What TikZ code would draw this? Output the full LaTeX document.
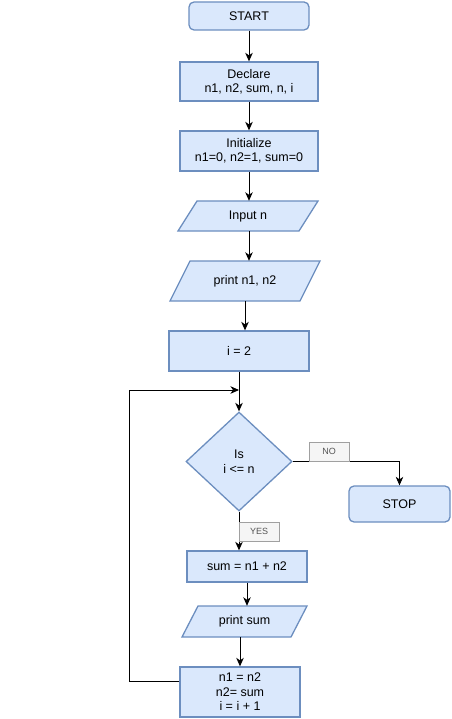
\documentclass[tikz,border=0pt]{standalone}
\usepackage{fontspec}
\setmainfont{Liberation Sans}
\usetikzlibrary{shapes.geometric,arrows.meta}
\definecolor{boxfill}{HTML}{DAE8FC}
\definecolor{boxline}{HTML}{6C8EBF}
\definecolor{lblfill}{HTML}{F5F5F5}
\definecolor{lblline}{HTML}{A0A0A0}
\definecolor{lbltext}{HTML}{555555}
\begin{document}
\begin{tikzpicture}[x=1pt,y=-1pt,
  every node/.style={font=\fontsize{12.5}{14.4}\selectfont, align=center, inner sep=0pt},
  proc/.style={draw=boxline, fill=boxfill, line width=1.3pt, rectangle},
  term/.style={proc, rounded corners=5pt},
  iobox/.style={draw=boxline, fill=boxfill, line width=1.3pt, line join=miter},
  decbox/.style={draw=boxline, fill=boxfill, line width=1.3pt, diamond},
  lbl/.style={draw=lblline, fill=lblfill, text=lbltext, font=\fontsize{9}{10}\selectfont, minimum width=40pt, minimum height=19pt, line width=0.6pt},
  arr/.style={draw=black, line width=0.9pt, -{Stealth[length=8.5pt,width=7.5pt,inset=2.5pt]}}
]
\useasboundingbox (0,0) rectangle (451,719);

% nodes
\node[term, minimum width=120pt, minimum height=28pt] (start) at (249,16) {START};
\node[proc, minimum width=138pt, minimum height=39pt] (declare) at (249,81.5) {Declare\\n1, n2, sum, n, i};
\node[proc, minimum width=138pt, minimum height=40pt] (init) at (249,151) {Initialize\\n1=0, n2=1, sum=0};

% Input n parallelogram
\draw[iobox] (178,231) -- (197,201) -- (318,201) -- (299,231) -- cycle;
\node[minimum width=102pt, minimum height=30pt] (input) at (248,216) {Input n};

% print n1, n2 parallelogram
\draw[iobox] (170,301) -- (190,261) -- (320,261) -- (300,301) -- cycle;
\node[minimum width=110pt, minimum height=40pt] (print) at (245,281) {print n1, n2};

\node[proc, minimum width=140pt, minimum height=40pt] (i2) at (239,351) {i = 2};

\node[decbox, minimum width=106pt, minimum height=99pt] (dec) at (239,461.5) {Is\\i <= n};

\node[term, minimum width=101pt, minimum height=36pt] (stop) at (399.5,504) {STOP};

\node[proc, minimum width=120pt, minimum height=31pt] (sum) at (247,566.5) {sum = n1 + n2};

% print sum parallelogram
\draw[iobox] (182,637) -- (198,606) -- (307,606) -- (291,637) -- cycle;
\node[minimum width=93pt, minimum height=31pt] (psum) at (244.5,621.5) {print sum};

\node[proc, minimum width=120pt, minimum height=50pt] (upd) at (240,692) {n1 = n2\\n2= sum\\i = i + 1};

\coordinate (loopc) at (129,390);
\coordinate (merge) at (239,390);

% connectors
\draw[arr] (start.south) -- (declare.north);
\draw[arr] (declare.south) -- (init.north);
\draw[arr] (init.south) -- (init.south |- input.north);
\draw[arr] (input.south -| init.south) -- (init.south |- print.north);
\draw[arr] (print.south) -- (print.south |- i2.north);
\draw[arr] (i2.south) -- (dec.north);
\draw[arr] (dec.east) -| (stop.north);
\draw[arr] (dec.south) -- (dec.south |- sum.north);
\draw[arr] (sum.south) -- (sum.south |- psum.north);
\draw[arr] (upd.north |- psum.south) -- (upd.north);
\draw[arr] ([yshift=11pt]upd.west) -| (loopc) -- (merge);

% labels
\node[lbl] (no) at (329,451.5) {NO};
\node[lbl] (yes) at (259,531.5) {YES};
\end{tikzpicture}
\end{document}
